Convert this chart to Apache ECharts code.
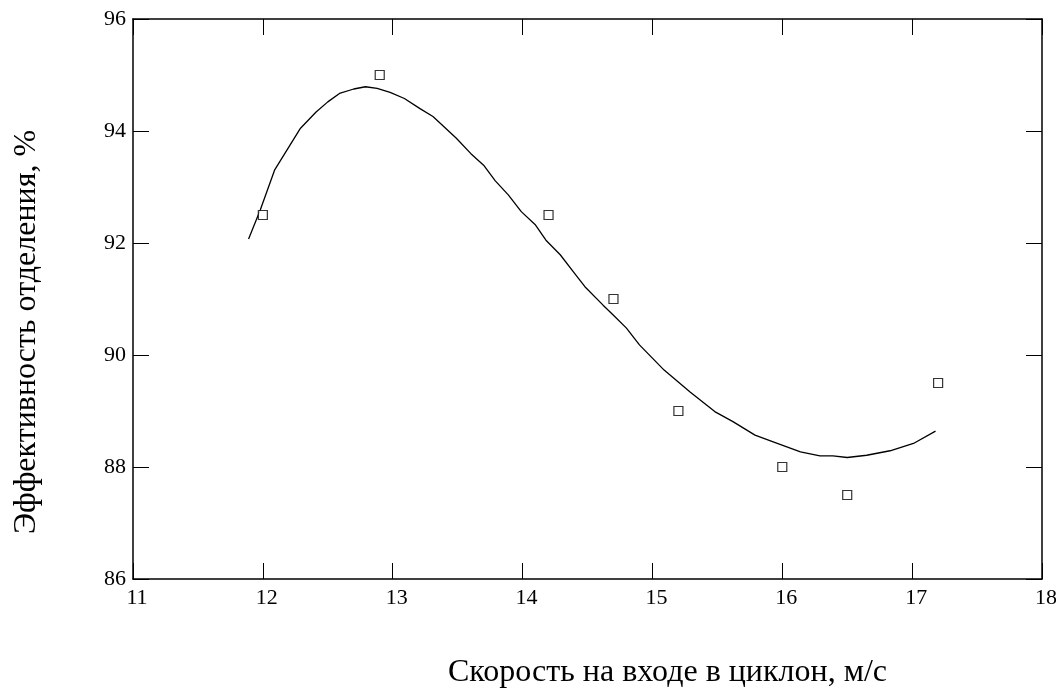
<!DOCTYPE html>
<html>
<head>
<meta charset="utf-8">
<script src="https://cdn.jsdelivr.net/npm/echarts@6/dist/echarts.min.js"></script>
<style>
  html, body { margin: 0; padding: 0; background: #fff; }
  #chart { width: 1056px; height: 690px; }
</style>
</head>
<body>
<div id="chart"></div>
<script>
// measured points (squares)
const speed = [12.0, 12.9, 14.2, 14.7, 15.2, 16.0, 16.5, 17.2];
const efficiency = [92.5, 95.0, 92.5, 91.0, 89.0, 88.0, 87.5, 89.5];

// fitted curve
const curveX = [11.89, 11.98, 12.09, 12.29, 12.41, 12.50, 12.59, 12.70, 12.79, 12.88,
  12.98, 13.09, 13.21, 13.31, 13.49, 13.60, 13.70, 13.79, 13.89, 13.99,
  14.10, 14.18, 14.29, 14.39, 14.48, 14.62, 14.70, 14.80, 14.90, 15.09,
  15.29, 15.48, 15.62, 15.79, 15.93, 16.14, 16.29, 16.39, 16.50, 16.65,
  16.83, 17.01, 17.18];
const curveY = [92.07, 92.59, 93.30, 94.05, 94.34, 94.52, 94.67, 94.75, 94.79, 94.76,
  94.69, 94.58, 94.40, 94.26, 93.87, 93.60, 93.39, 93.11, 92.86, 92.56,
  92.32, 92.05, 91.79, 91.49, 91.22, 90.89, 90.71, 90.48, 90.18, 89.73,
  89.34, 88.99, 88.81, 88.57, 88.45, 88.27, 88.20, 88.20, 88.17, 88.21,
  88.29, 88.42, 88.64];

const xTitle = 'Скорость на входе в циклон, м/с';
const yTitle = 'Эффективность отделения, %';

const font = '"Liberation Serif", "Times New Roman", serif';
const ink = '#000';

let chart = echarts.init(document.getElementById('chart'), null, { renderer: 'canvas' });

let axisCommon = {
  axisLine: { show: true, onZero: false, lineStyle: { color: ink, width: 1.5 } },
  axisTick: { show: true, inside: true, length: 16, lineStyle: { color: ink, width: 1 } },
  splitLine: { show: false },
};

let options = {
  backgroundColor: '#fff',
  animation: false,
  grid: { left: 133, right: 14, top: 19, bottom: 111, outerBoundsMode: 'none' },
  xAxis: [
    {
      ...axisCommon,
      type: 'value', min: 11, max: 18, interval: 1, position: 'bottom',
      axisLabel: { color: ink, fontFamily: font, fontSize: 22, margin: 8, padding: [0, 0, 0, 8] },
    },
    {
      ...axisCommon,
      type: 'value', min: 11, max: 18, interval: 1, position: 'top',
      axisLabel: { show: false },
    },
  ],
  yAxis: [
    {
      ...axisCommon,
      type: 'value', min: 86, max: 96, interval: 2, position: 'left',
      axisLabel: { color: ink, fontFamily: font, fontSize: 22, margin: 7, padding: [4, 0, 0, 0] },
    },
    {
      ...axisCommon,
      type: 'value', min: 86, max: 96, interval: 2, position: 'right',
      axisLabel: { show: false },
    },
  ],
  graphic: [
    {
      type: 'text', left: 448, top: 657,
      style: { text: xTitle, fill: ink, font: '32px ' + font },
    },
    {
      type: 'text', x: 27, y: 332, rotation: Math.PI / 2,
      style: { text: yTitle, fill: ink, font: '32px ' + font, align: 'center', verticalAlign: 'middle' },
    },
  ],
  series: [
    {
      type: 'line',
      data: curveX.map((x, i) => [x, curveY[i]]),
      showSymbol: false,
      smooth: false,
      lineStyle: { color: ink, width: 1.3 },
      z: 2,
    },
    {
      type: 'scatter',
      data: speed.map((x, i) => [x, efficiency[i]]),
      symbol: 'rect',
      symbolSize: 9,
      itemStyle: { color: '#fff', borderColor: ink, borderWidth: 1.2 },
      z: 3,
    },
  ],
};

chart.setOption(options);
</script>
</body>
</html>
